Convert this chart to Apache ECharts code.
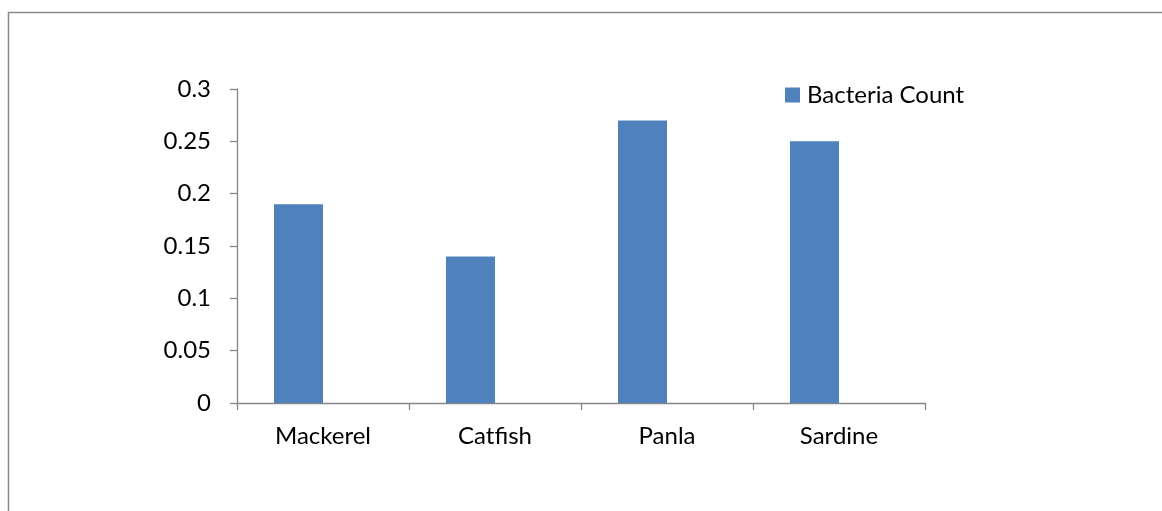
<!DOCTYPE html>
<html>
<head>
<meta charset="utf-8">
<script src="https://cdn.jsdelivr.net/npm/echarts@6/dist/echarts.min.js"></script>
<style>
html,body{margin:0;padding:0;background:#fff;}
#chart{width:1162px;height:511px;}
</style>
</head>
<body>
<div id="chart"></div>
<script>
var categories = ['Mackerel', 'Catfish', 'Panla', 'Sardine'];
var bacteriaCount = [0.19, 0.14, 0.27, 0.25];
var emptySeries = ['-', '-', '-', '-'];
var yTicks = [0, 0.05, 0.1, 0.15, 0.2, 0.25, 0.3];

var font = 'Lato, "Open Sans", sans-serif';
var fs = 24;
var axisColor = '#868686';
var chart = echarts.init(document.getElementById('chart'), null, {renderer: 'canvas'});
chart.setOption({
  animation: false,
  backgroundColor: '#ffffff',
  graphic: [{
    type: 'rect',
    shape: {x: 8.5, y: 12.5, width: 1300, height: 700},
    style: {fill: 'none', stroke: '#8a8a8a', lineWidth: 1.5},
    silent: true
  }],
  grid: {left: 237, top: 89, width: 688, height: 314, containLabel: false},
  legend: {
    data: ['Bacteria Count'],
    left: 785,
    top: 83,
    padding: 0,
    itemWidth: 15,
    itemHeight: 15,
    itemGap: 10,
    icon: 'rect',
    textStyle: {fontFamily: font, fontSize: fs, color: '#000', padding: [0, 0, 0, 2]}
  },
  xAxis: {
    type: 'category',
    data: categories,
    boundaryGap: true,
    axisLine: {show: true, lineStyle: {color: axisColor, width: 1.3}},
    axisTick: {show: true, length: 7, inside: false, lineStyle: {color: axisColor, width: 1.3}},
    axisLabel: {fontFamily: font, fontSize: fs, color: '#000', margin: 21},
    splitLine: {show: false}
  },
  yAxis: {
    type: 'value',
    min: yTicks[0],
    max: yTicks[yTicks.length - 1],
    interval: 0.05,
    axisLine: {show: true, lineStyle: {color: axisColor, width: 1.3}},
    axisTick: {show: true, length: 7, lineStyle: {color: axisColor, width: 1.3}},
    axisLabel: {fontFamily: font, fontSize: fs, color: '#000', margin: 26,
      formatter: function (v) { return String(+v.toFixed(2)); }},
    splitLine: {show: false}
  },
  series: [{
    name: 'Bacteria Count',
    type: 'bar',
    data: bacteriaCount,
    barWidth: 49,
    barGap: '0%',
    itemStyle: {color: '#4F81BD'}
  }, {
    name: 'empty',
    type: 'bar',
    data: emptySeries,
    barWidth: 49,
    barGap: '0%',
    itemStyle: {color: '#C0504D'}
  }]
});
</script>
</body>
</html>
